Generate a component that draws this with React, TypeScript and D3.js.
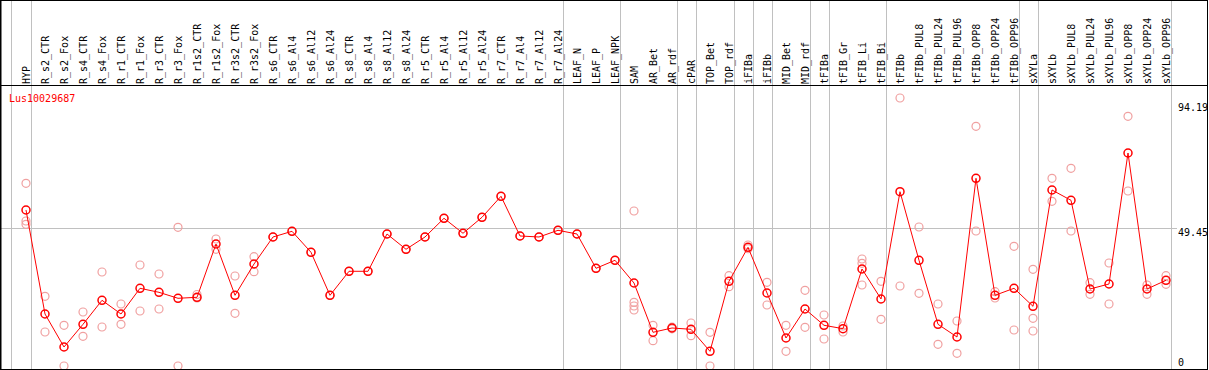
import React from "react";
import * as d3 from "d3";

const categories = [
  "HYP", "R_s2_CTR", "R_s2_Fox", "R_s4_CTR", "R_s4_Fox", "R_r1_CTR", "R_r1_Fox", "R_r3_CTR", "R_r3_Fox",
  "R_r1s2_CTR", "R_r1s2_Fox", "R_r3s2_CTR", "R_r3s2_Fox", "R_s6_CTR", "R_s6_Al4", "R_s6_Al12", "R_s6_Al24",
  "R_s8_CTR", "R_s8_Al4", "R_s8_Al12", "R_s8_Al24", "R_r5_CTR", "R_r5_Al4", "R_r5_Al12", "R_r5_Al24",
  "R_r7_CTR", "R_r7_Al4", "R_r7_Al12", "R_r7_Al24", "LEAF_N", "LEAF_P", "LEAF_NPK", "SAM", "AR_Bet", "AR_rdf",
  "cPAR", "TOP_Bet", "TOP_rdf", "iFIBa", "iFIBb", "MID_Bet", "MID_rdf", "tFIBa", "tFIB_Gr", "tFIB_Li", "tFIB_Bi",
  "tFIBb", "tFIBb_PUL8", "tFIBb_PUL24", "tFIBb_PUL96", "tFIBb_OPP8", "tFIBb_OPP24", "tFIBb_OPP96",
  "sXYLa", "sXYLb", "sXYLb_PUL8", "sXYLb_PUL24", "sXYLb_PUL96", "sXYLb_OPP8", "sXYLb_OPP24", "sXYLb_OPP96",
];

// sizes of the sample groups separated by grey vertical lines
const groupSizes = [1, 28, 3, 3, 1, 2, 1, 1, 2, 1, 3, 7, 1, 7];

const means = [
  55.87, 18.62, 6.8, 14.93, 23.53, 18.62, 27.83, 26.39, 24.25, 24.6,
  43.69, 25.32, 36.53, 46.2, 48.24, 40.72, 25.32, 33.92, 33.92, 47.27,
  41.8, 46.2, 52.9, 47.53, 53.26, 60.78, 46.56, 46.2, 48.6, 47.27,
  34.99, 37.86, 29.73, 12.07, 13.61, 13.14, 5.26, 30.33, 42.51, 26.14,
  10.03, 20.41, 14.58, 13.36, 34.74, 24.0, 62.42, 37.86, 14.93, 10.39,
  67.22, 25.32, 27.83, 21.38, 63.03, 59.34, 27.58, 29.37, 76.28, 27.58, 30.69,
];

const replicates: number[][] = [
  [65.43, 51.93, 50.75], [24.96, 12.18], [14.58, 0], [19.34, 10.64], [33.67, 13.97],
  [22.2, 14.93], [36.17, 19.7], [32.95, 20.41], [49.67, 0], [25.61, 24.35],
  [45.48, 41.8], [32.23, 18.87], [39.14, 33.77],
  [46.2], [48.24], [40.72], [25.32], [33.92], [33.92], [47.27], [41.8], [46.2], [52.9],
  [47.53], [53.26], [60.78], [46.56], [46.2], [48.6], [47.27], [34.99], [37.86],
  [55.51, 22.81, 21.49, 20.06], [14.58, 9.06], [13.9, 13.3], [15.4, 10.85], [12.07, 0],
  [32.34, 28.4], [43.33, 42.0], [29.98, 21.85], [14.58, 5.26], [27.11, 13.86],
  [18.27, 9.67], [14.33, 12.18], [38.32, 36.78, 29.01], [30.33, 16.73],
  [95.98, 28.65], [49.78, 26.04], [22.2, 7.77], [16.12, 4.55], [85.85, 48.35],
  [26.61, 24.35], [42.87, 12.89], [34.63, 17.08, 12.53], [67.22, 58.99], [70.8, 48.35],
  [29.83, 25.68], [36.89, 22.2], [89.43, 62.67], [29.01, 25.68], [32.34, 29.26],
];

const yTickValues = [94.19, 49.45, 0];
const yTickLabels = ["94.19", "49.45", "0"];
const gridValues = [49.45];
const geneName = "Lus10029687";

const W = 1209;
const H = 370;
const FONT = "'DejaVu Sans Mono', monospace";

export default function App() {
  const x = d3.scalePoint<string>().domain(categories).range([26, 26 + 19 * (categories.length - 1)]);
  const y = d3.scaleLinear().domain([0, 94.19]).range([366, 103]);

  const xi = (i: number) => x(categories[i]) as number;

  // group boundary lines
  const boundaries: number[] = [xi(0) - 15.3];
  let acc = 0;
  groupSizes.forEach((s) => {
    acc += s;
    boundaries.push(xi(acc - 1) + 4.7);
  });

  const line = d3
    .line<number>()
    .x((_, i) => xi(i))
    .y((d) => y(d));

  return (
    <div style={{ position: "absolute", left: 0, top: 0 }}>
      <svg width={W} height={H} style={{ display: "block", background: "#fff" }}>
        <defs>
          <clipPath id="plotclip">
            <rect x={1} y={86} width={1206} height={283} />
          </clipPath>
        </defs>
        {/* grey separators */}
        {boundaries.map((b, i) => (
          <line key={"b" + i} x1={Math.round(b) + 0.5} x2={Math.round(b) + 0.5} y1={0} y2={369} stroke="#c0c0c0" strokeWidth={1} />
        ))}
        {gridValues.map((v, i) => (
          <line key={"g" + i} x1={1} x2={1177} y1={Math.round(y(v)) + 0.5} y2={Math.round(y(v)) + 0.5} stroke="#c0c0c0" strokeWidth={1} />
        ))}
        {/* header labels */}
        {categories.map((c, i) => (
          <text
            key={c}
            transform={`translate(${xi(i) + 3.5},84) rotate(-90)`}
            fontFamily={FONT}
            fontSize={10}
            fill="#000"
          >
            {c}
          </text>
        ))}
        {/* frame */}
        <line x1={0} x2={1208} y1={0.5} y2={0.5} stroke="#000" strokeWidth={1} />
        <line x1={0} x2={1208} y1={85.5} y2={85.5} stroke="#000" strokeWidth={1} />
        <line x1={0} x2={1208} y1={369.5} y2={369.5} stroke="#000" strokeWidth={1} />
        <line x1={0.75} x2={0.75} y1={0} y2={370} stroke="#000" strokeWidth={1.5} />
        <line x1={1207.5} x2={1207.5} y1={0} y2={370} stroke="#000" strokeWidth={1} />

        <g clipPath="url(#plotclip)">
          {replicates.map((reps, i) =>
            reps.map((v, j) => (
              <circle key={`r${i}-${j}`} cx={xi(i)} cy={y(v)} r={4} fill="none" stroke="#f0a0a0" strokeWidth={1.2} />
            ))
          )}
          <path d={line(means) || ""} fill="none" stroke="#ff0000" strokeWidth={1} />
          {means.map((v, i) => (
            <circle key={"m" + i} cx={xi(i)} cy={y(v)} r={4} fill="none" stroke="#ff0000" strokeWidth={1.5} />
          ))}
        </g>

        <text x={9} y={101.5} fontFamily={FONT} fontSize={10} fill="#ff0000">
          {geneName}
        </text>
        {yTickValues.map((v, i) => (
          <text key={"t" + i} x={1178} y={Math.min(y(v) + 8, 365.5)} fontFamily={FONT} fontSize={10} fill="#000">
            {yTickLabels[i]}
          </text>
        ))}
      </svg>
    </div>
  );
}
